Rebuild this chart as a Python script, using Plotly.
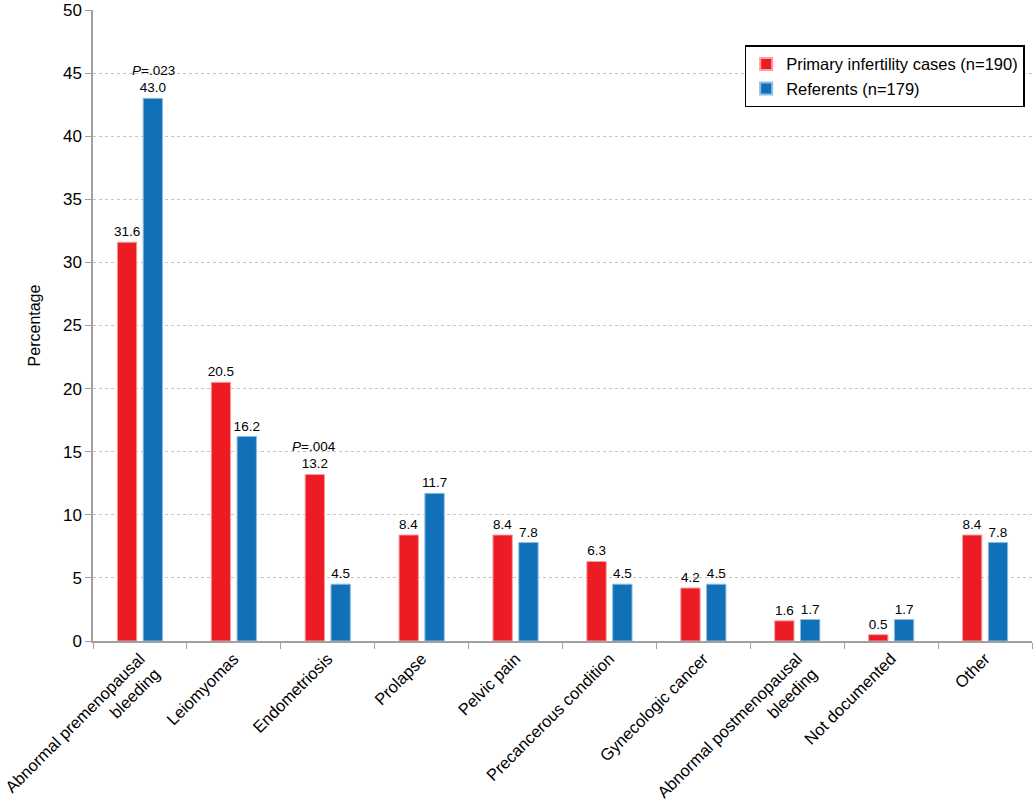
import plotly.graph_objects as go

categories = [
    "Abnormal premenopausal<br>bleeding",
    "Leiomyomas",
    "Endometriosis",
    "Prolapse",
    "Pelvic pain",
    "Precancerous condition",
    "Gynecologic cancer",
    "Abnormal postmenopausal<br>bleeding",
    "Not documented",
    "Other",
]
cases = [31.6, 20.5, 13.2, 8.4, 8.4, 6.3, 4.2, 1.6, 0.5, 8.4]
referents = [43.0, 16.2, 4.5, 11.7, 7.8, 4.5, 4.5, 1.7, 1.7, 7.8]
y_ticks = [0, 5, 10, 15, 20, 25, 30, 35, 40, 45, 50]

FONT = "Liberation Sans, Arial, sans-serif"
RED = "#ED1C24"
BLUE = "#1070B8"

fig = go.Figure()
fig.add_trace(go.Bar(
    x=categories, y=cases, name="Primary infertility cases (n=190)",
    marker=dict(color=RED, line=dict(color="#F7A0A3", width=1)),
    texttemplate="%{y:.1f}", textposition="outside", cliponaxis=False,
    constraintext="none",
    textfont=dict(size=13.5, color="black", family=FONT),
))
fig.add_trace(go.Bar(
    x=categories, y=referents, name="Referents (n=179)",
    marker=dict(color=BLUE, line=dict(color="#8FBCE0", width=1)),
    texttemplate="%{y:.1f}", textposition="outside", cliponaxis=False,
    constraintext="none",
    textfont=dict(size=13.5, color="black", family=FONT),
))

fig.add_annotation(x=categories[0], y=43.0, xshift=14, yshift=18, yanchor="bottom",
                   text="<i>P</i>=.023", showarrow=False,
                   font=dict(size=13.5, color="black", family=FONT))
fig.add_annotation(x=categories[2], y=13.2, xshift=-14, yshift=18, yanchor="bottom",
                   text="<i>P</i>=.004", showarrow=False,
                   font=dict(size=13.5, color="black", family=FONT))

fig.update_layout(
    width=1035, height=810,
    margin=dict(l=93, r=3, t=10, b=169),
    paper_bgcolor="white", plot_bgcolor="white",
    barmode="group", bargap=0.45, bargroupgap=0.25,
    font=dict(family=FONT, color="black", size=16),
    legend=dict(
        x=0.694, y=0.944, xanchor="left", yanchor="top",
        bordercolor="black", borderwidth=1.5, bgcolor="white",
        font=dict(size=16.5, family=FONT), itemsizing="constant",
        tracegroupgap=0,
    ),
    xaxis=dict(
        tickangle=-45, tickson="boundaries", ticks="outside", ticklen=6,
        tickcolor="#A0A0A0", showline=True, linecolor="#A0A0A0", linewidth=1.5,
        tickfont=dict(size=16.5, family=FONT), showgrid=False, automargin=False,
    ),
    yaxis=dict(
        range=[0, 50], tickvals=y_ticks, ticks="outside", ticklen=6,
        tickcolor="#A0A0A0", showline=True, linecolor="#A0A0A0", linewidth=1.5,
        showgrid=True, gridcolor="#C4C4C4", griddash="dot", gridwidth=1,
        zeroline=False, tickfont=dict(size=17, family=FONT), automargin=False,
        title=dict(text="Percentage", font=dict(size=16, family=FONT), standoff=18),
    ),
)

fig.write_html("out.html", config={"displayModeBar": False},
               post_script="document.body.style.margin='0';")
